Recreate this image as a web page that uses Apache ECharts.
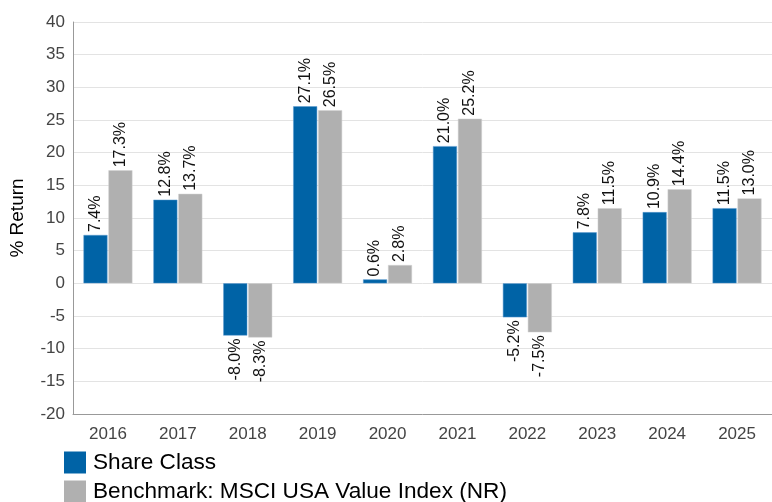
<!DOCTYPE html>
<html>
<head>
<meta charset="utf-8">
<script src="https://cdn.jsdelivr.net/npm/echarts@6/dist/echarts.min.js"></script>
<style>
  html, body { margin: 0; padding: 0; background: #fff; }
  #chart { width: 772px; height: 502px; }
</style>
</head>
<body>
<div id="chart"></div>
<script>
// 年份 + 两组收益
var years = ['2016', '2017', '2018', '2019', '2020', '2021', '2022', '2023', '2024', '2025'];
var shareClass = [7.4, 12.8, -8.0, 27.1, 0.6, 21.0, -5.2, 7.8, 10.9, 11.5];
var benchmark = [17.3, 13.7, -8.3, 26.5, 2.8, 25.2, -7.5, 11.5, 14.4, 13.0];
var yTicks = [-20, -15, -10, -5, 0, 5, 10, 15, 20, 25, 30, 35, 40];

function withLabels(arr) {
    // 负值的标签放在柱子下方
    return arr.map(function (v) {
        if (v < 0) {
            return { value: v, label: { position: 'bottom', align: 'right' } };
        }
        return v;
    });
}

var barLabel = {
    show: true,
    position: 'top',
    rotate: 90,
    align: 'left',
    verticalAlign: 'middle',
    distance: 3,
    fontSize: 16,
    color: '#111',
    formatter: function (p) { return p.value.toFixed(1) + '%'; }
};

var myChart = echarts.init(document.getElementById('chart'));
var option = {
    animation: false,
    textStyle: { fontFamily: 'Liberation Sans, Arial, sans-serif' },
    grid: { left: 72, right: 0, top: 22, bottom: 88 },
    legend: {
        orient: 'vertical',
        left: 64,
        top: 451,
        height: 120,
        padding: 0,
        itemWidth: 22,
        itemHeight: 22,
        itemGap: 6,
        icon: 'rect',
        itemStyle: { borderWidth: 0 },
        textStyle: { fontSize: 22.6, lineHeight: 22, color: '#000', padding: [0, 0, 0, 2] },
        data: ['Share Class', 'Benchmark: MSCI USA Value Index (NR)']
    },
    xAxis: {
        type: 'category',
        data: years,
        axisLine: { onZero: false, lineStyle: { color: '#999', width: 1 } },
        axisTick: { show: false },
        axisLabel: { fontSize: 17, color: '#444', margin: 12 }
    },
    yAxis: {
        type: 'value',
        min: yTicks[0],
        max: yTicks[yTicks.length - 1],
        interval: 5,
        name: '% Return',
        nameLocation: 'middle',
        nameGap: 46,
        nameTextStyle: { fontSize: 19, color: '#000' },
        axisLine: { show: true, lineStyle: { color: '#999', width: 1 } },
        axisTick: { show: false },
        axisLabel: { fontSize: 17, color: '#444', margin: 8 },
        splitLine: { lineStyle: { color: '#e3e3e3', width: 1 } }
    },
    series: [
        {
            name: 'Share Class',
            type: 'bar',
            data: withLabels(shareClass),
            barGap: '4%',
            barCategoryGap: '30%',
            itemStyle: { color: '#0063a6', borderColor: '#5b9bd0', borderWidth: 0.5 },
            label: barLabel
        },
        {
            name: 'Benchmark: MSCI USA Value Index (NR)',
            type: 'bar',
            data: withLabels(benchmark),
            barGap: '4%',
            barCategoryGap: '30%',
            itemStyle: { color: '#b0b0b0', borderColor: '#d0d0d0', borderWidth: 0.5 },
            label: barLabel
        }
    ]
};
myChart.setOption(option);
</script>
</body>
</html>
